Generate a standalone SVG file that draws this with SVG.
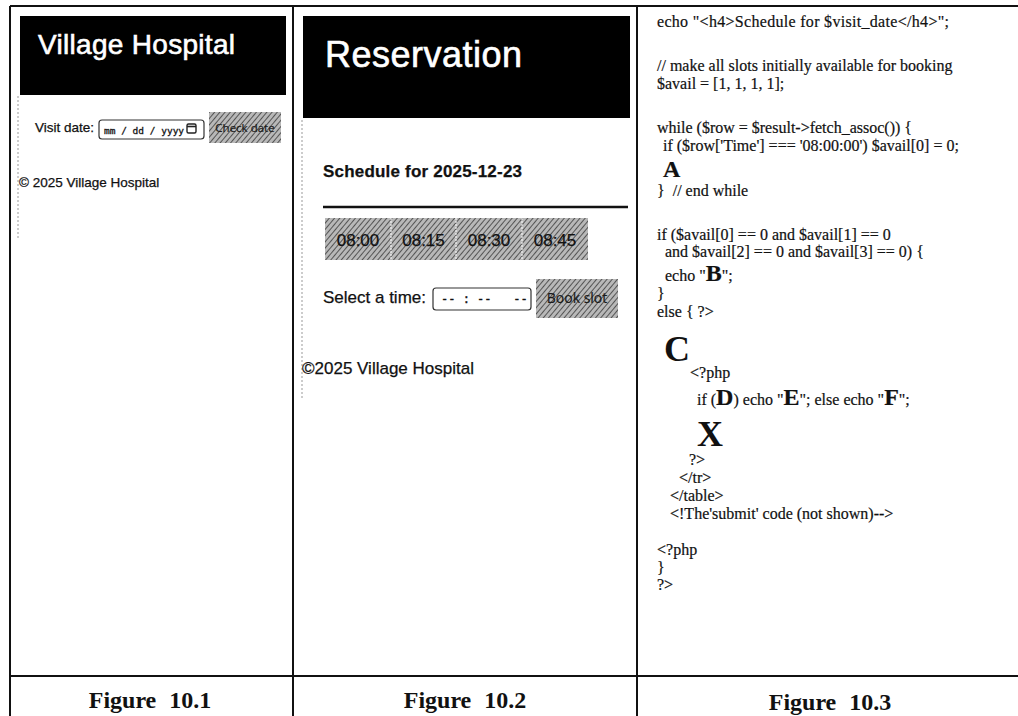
<svg xmlns="http://www.w3.org/2000/svg" width="1018" height="716" viewBox="0 0 1018 716">
<defs>
<pattern id="hatch" width="4" height="4" patternUnits="userSpaceOnUse" patternTransform="rotate(40)">
<rect width="4" height="4" fill="#b8b8b8"/>
<line x1="0" y1="0" x2="0" y2="4" stroke="#4e4e4e" stroke-width="1.9"/>
</pattern>
</defs>
<style>
.frame{stroke:#111;stroke-width:2;fill:none}
.dash{stroke:#999;stroke-width:1;stroke-dasharray:2 2;fill:none}
.sans{font-family:"Liberation Sans",Arial,sans-serif;fill:#111;stroke:#111;stroke-width:0.25}
.hdr{font-family:"Liberation Sans",Arial,sans-serif;fill:#fff;stroke:#fff;stroke-width:0.6}
.mono{font-family:"DejaVu Sans Mono","Liberation Mono",monospace;fill:#111;stroke:#111;stroke-width:0.3}
.btn{font-family:"Open Sans","Liberation Sans",sans-serif;fill:#1a1a1a;stroke:#1a1a1a;stroke-width:0.2}
.code{font-family:"Liberation Serif","Times New Roman",serif;font-size:16px;fill:#111;stroke:#111;stroke-width:0.2}
.big{font-weight:bold;font-size:24px}
.huge{font-family:"Liberation Serif","Times New Roman",serif;font-weight:bold;font-size:36px;fill:#111}
.cap{font-family:"Liberation Serif","Times New Roman",serif;font-weight:bold;font-size:24px;fill:#111;word-spacing:7px}
</style>

<g id="frame">
<path class="frame" d="M10 6 H1018 M10 6 V716 M293 6 V716 M637 6 V716 M10 676 H1018"/>
</g>

<g id="figure-10-1">
<rect x="20" y="16" width="266" height="79" fill="#000"/>
<text class="hdr" x="38" y="54" font-size="28" textLength="197">Village Hospital</text>
<path class="dash" d="M18 96 V240"/>
<text class="sans" x="35" y="132" font-size="13.5">Visit date:</text>
<rect x="99" y="120" width="105" height="19" rx="3" fill="#fff" stroke="#333" stroke-width="1.2"/>
<text class="mono" x="104" y="134" font-size="9.5">mm / dd / yyyy</text>
<rect x="187" y="124" width="9" height="9" rx="1.5" fill="none" stroke="#222" stroke-width="1.4"/>
<line x1="187" y1="126.5" x2="196" y2="126.5" stroke="#222" stroke-width="1.6"/>
<rect x="209" y="112" width="72" height="31" fill="url(#hatch)"/>
<text class="btn" x="245" y="132" font-size="11.5" text-anchor="middle">Check date</text>
<text class="sans" x="19" y="187" font-size="13.5">© 2025 Village Hospital</text>
</g>

<g id="figure-10-2">
<rect x="303" y="16" width="327" height="102" fill="#000"/>
<text class="hdr" x="325" y="67" font-size="36" textLength="197">Reservation</text>
<path class="dash" d="M302 120 V400"/>
<text class="sans" x="323" y="177" font-size="17" font-weight="bold" textLength="199">Schedule for 2025-12-23</text>
<line x1="323" y1="207" x2="628" y2="207" stroke="#111" stroke-width="2.5"/>
<rect x="325" y="218" width="263" height="42" fill="url(#hatch)"/>
<path d="M391 218 V260 M456 218 V260 M522 218 V260" stroke="#fff" stroke-width="1" stroke-dasharray="2 1"/>
<g class="sans" font-size="17" text-anchor="middle">
<text x="358" y="246">08:00</text>
<text x="423.5" y="246">08:15</text>
<text x="489" y="246">08:30</text>
<text x="555" y="246">08:45</text>
</g>
<text class="sans" x="323" y="303" font-size="17">Select a time:</text>
<rect x="433" y="288" width="98" height="22" rx="3" fill="#fff" stroke="#333" stroke-width="1.2"/>
<text class="mono" x="441" y="303" font-size="12" xml:space="preserve">-- : --   --</text>
<rect x="536" y="279" width="82" height="39" fill="url(#hatch)"/>
<text class="btn" x="577" y="303" font-size="14" text-anchor="middle">Book slot</text>
<text class="sans" x="302" y="374" font-size="17">©2025 Village Hospital</text>
</g>

<g id="figure-10-3">
<text class="code" x="657" y="27" textLength="292">echo "&lt;h4&gt;Schedule for $visit_date&lt;/h4&gt;";</text>
<text class="code" x="657" y="71">// make all slots initially available for booking</text>
<text class="code" x="657" y="89">$avail = [1, 1, 1, 1];</text>
<text class="code" x="657" y="133">while ($row = $result-&gt;fetch_assoc()) {</text>
<text class="code" x="663" y="151">if ($row['Time'] === '08:00:00') $avail[0] = 0;</text>
<text class="code big" x="663" y="177">A</text>
<text class="code" x="657" y="196" xml:space="preserve">}  // end while</text>
<text class="code" x="657" y="240">if ($avail[0] == 0 and $avail[1] == 0</text>
<text class="code" x="665" y="257">and $avail[2] == 0 and $avail[3] == 0) {</text>
<text class="code" x="665" y="281">echo "<tspan class="big">B</tspan>";</text>
<text class="code" x="657" y="299">}</text>
<text class="code" x="657" y="317">else { ?&gt;</text>
<text class="huge" x="664" y="361">C</text>
<text class="code" x="690" y="378">&lt;?php</text>
<text class="code" x="697" y="405">if (<tspan class="big">D</tspan>) echo "<tspan class="big">E</tspan>"; else echo "<tspan class="big">F</tspan>";</text>
<text class="huge" x="697" y="446">X</text>
<text class="code" x="689" y="465">?&gt;</text>
<text class="code" x="679" y="483">&lt;/tr&gt;</text>
<text class="code" x="670" y="501">&lt;/table&gt;</text>
<text class="code" x="670" y="519">&lt;!The'submit' code (not shown)--&gt;</text>
<text class="code" x="657" y="555">&lt;?php</text>
<text class="code" x="657" y="573">}</text>
<text class="code" x="657" y="590">?&gt;</text>
</g>

<g id="captions">
<text class="cap" x="150" y="708" text-anchor="middle">Figure 10.1</text>
<text class="cap" x="465" y="708" text-anchor="middle">Figure 10.2</text>
<text class="cap" x="830" y="710" text-anchor="middle">Figure 10.3</text>
</g>
</svg>
